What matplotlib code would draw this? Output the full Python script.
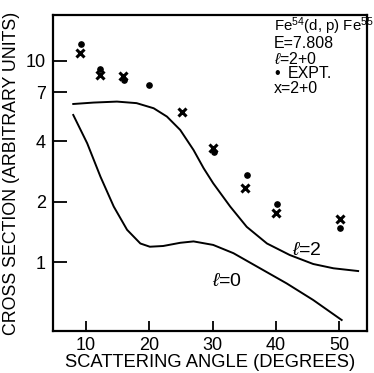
import numpy as np
import matplotlib.pyplot as plt

plt.rcParams['font.family'] = ['Liberation Sans', 'DejaVu Sans']
plt.rcParams['mathtext.fontset'] = 'custom'
plt.rcParams['mathtext.rm'] = 'Liberation Sans'
plt.rcParams['mathtext.it'] = 'Liberation Sans:italic'

# calculated curves (angle, cross section)
l2_angle = [8.0, 11.2, 14.9, 18.0, 20.7, 22.8, 24.9, 27.0, 28.6, 30.1, 32.8,
            35.4, 38.6, 42.2, 45.9, 49.1, 53.0]
l2_sigma = [6.11, 6.21, 6.28, 6.17, 5.82, 5.29, 4.54, 3.61, 2.93, 2.47, 1.89,
            1.50, 1.24, 1.087, 0.981, 0.934, 0.905]

l0_angle = [8.0, 10.2, 12.3, 14.4, 16.5, 18.6, 20.1, 22.2, 24.9, 27.0, 30.1,
            33.3, 37.5, 41.7, 45.9, 50.4]
l0_sigma = [5.39, 3.90, 2.66, 1.89, 1.45, 1.24, 1.195, 1.205, 1.25, 1.27, 1.22,
            1.11, 0.934, 0.786, 0.650, 0.517]

# experiment (dots)
expt_angle = [9.3, 12.2, 16.0, 19.9, 30.2, 35.4, 40.2, 50.2]
expt_sigma = [12.15, 9.09, 8.05, 7.60, 3.52, 2.72, 1.94, 1.475]

# 2+0 fit (crosses)
fit_angle = [9.1, 12.2, 15.9, 25.1, 30.1, 35.1, 40.0, 50.2]
fit_sigma = [10.9, 8.52, 8.42, 5.60, 3.68, 2.33, 1.75, 1.64]

xticks = [10, 20, 30, 40, 50]
yticks = [1, 2, 4, 7, 10]

fig = plt.figure(figsize=(3.74, 3.73), dpi=100)
ax = fig.add_axes([53/374, 1-331/373, (367-53)/374, (331-15)/373])

ax.plot(l2_angle, l2_sigma, color='black', lw=1.4)
ax.plot(l0_angle, l0_sigma, color='black', lw=1.4)
ax.plot(fit_angle, fit_sigma, 'x', color='black', ms=6, mew=2.2)
ax.plot(expt_angle, expt_sigma, 'o', color='black', ms=3.8)

ax.set_yscale('log')
ax.set_xlim(4.8, 54.4)
ax.set_ylim(0.456, 16.9)
ax.set_xticks(xticks)
ax.set_xticklabels([str(t) for t in xticks])
ax.set_yticks(yticks)
ax.set_yticklabels([str(t) for t in yticks])
ax.minorticks_off()
ax.tick_params(direction='in', length=7, width=1.3, labelsize=13, pad=4)
ax.tick_params(axis='y', length=10, pad=5)
for s in ax.spines.values():
    s.set_linewidth(1.6)

ax.set_xlabel('SCATTERING ANGLE (DEGREES)', fontsize=13.2, labelpad=0)
ax.set_ylabel('CROSS SECTION (ARBITRARY UNITS)', fontsize=12.8, labelpad=4)

# curve labels
ax.text(42.6, 1.15, r'$\ell$=2', fontsize=14, ha='left', va='center')
ax.text(29.9, 0.80, r'$\ell$=0', fontsize=14, ha='left', va='center')

# key text
def ft(px, py, s, **kw):
    fig.text(px/374, 1-py/373, s, ha='left', va='center', **kw)

ft(274, 26, r'Fe$^{54}$(d, p) Fe$^{55}$', fontsize=10.8)
ft(274, 43.5, 'E=7.808', fontsize=11.5)
ft(274, 58.5, r'$\ell$=2+0', fontsize=11.5)
ft(274, 73.5, '•', fontsize=11.5)
ft(288, 73.5, 'EXPT.', fontsize=11.5)
ft(274, 88.5, 'x=2+0', fontsize=11.5)

fig.savefig('out.png', dpi=100)
